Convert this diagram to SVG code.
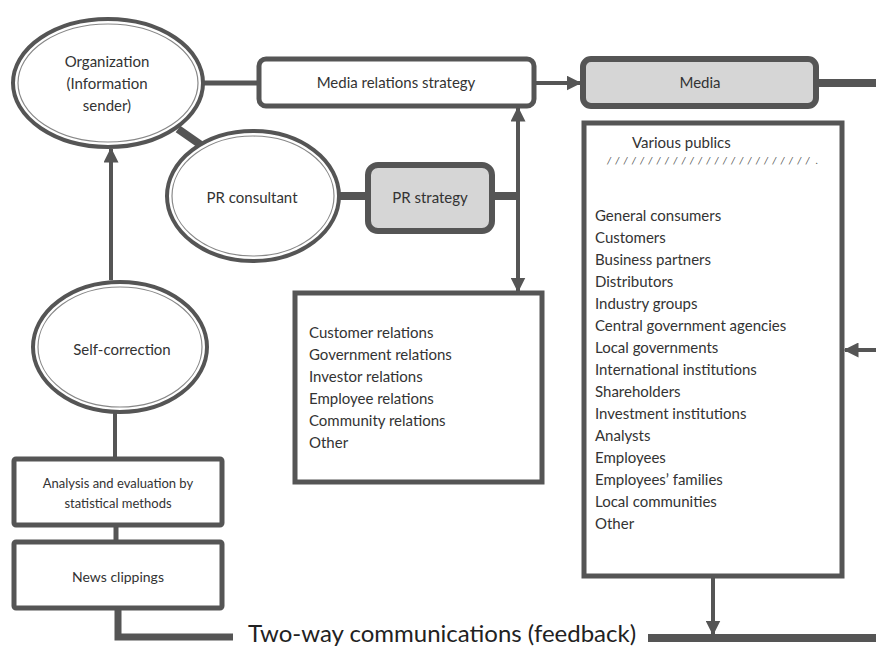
<svg xmlns="http://www.w3.org/2000/svg" width="876" height="646" viewBox="0 0 876 646">
<defs>
<style>
.t{font-family:Lato,"Liberation Sans",sans-serif;font-size:15px;fill:#333}
.c{text-anchor:middle;dominant-baseline:central}
.eo{fill:#fff;stroke:#555;stroke-width:4}
.ei{fill:none;stroke:#888;stroke-width:1.2}
.box{fill:#fff;stroke:#555;stroke-width:5}
.gbox{fill:#d6d6d6;stroke:#555;stroke-width:6}
.ln{stroke:#555;fill:none}
</style>
<marker id="ah" viewBox="0 0 10 10" refX="9" refY="5" markerWidth="15" markerHeight="15" orient="auto-start-reverse" markerUnits="userSpaceOnUse">
<path d="M0,0 L10,5 L0,10 z" fill="#555"/>
</marker>
</defs>
<rect width="876" height="646" fill="#fff"/>

<g id="connectors">
<line class="ln" x1="203" y1="83" x2="260" y2="83" stroke-width="5"/>
<line class="ln" x1="535" y1="83" x2="580" y2="83" stroke-width="4" marker-end="url(#ah)"/>
<line class="ln" x1="817" y1="83" x2="876" y2="83" stroke-width="8"/>
<line class="ln" x1="178" y1="129" x2="201" y2="145" stroke-width="8"/>
<line class="ln" x1="338" y1="196" x2="368" y2="196" stroke-width="8"/>
<line class="ln" x1="492" y1="196" x2="518" y2="196" stroke-width="8"/>
<line class="ln" x1="518" y1="108" x2="518" y2="291" stroke-width="4" marker-start="url(#ah)" marker-end="url(#ah)"/>
<line class="ln" x1="111" y1="280" x2="111" y2="149" stroke-width="4" marker-end="url(#ah)"/>
<line class="ln" x1="115" y1="412" x2="115" y2="458" stroke-width="4"/>
<line class="ln" x1="116" y1="526" x2="116" y2="541" stroke-width="5"/>
<polyline class="ln" points="118,610 118,637 233,637" stroke-width="7"/>
<line class="ln" x1="648" y1="638" x2="876" y2="638" stroke-width="8"/>
<line class="ln" x1="713" y1="577" x2="713" y2="634" stroke-width="4" marker-end="url(#ah)"/>
<line class="ln" x1="876" y1="350" x2="845" y2="350" stroke-width="4" marker-end="url(#ah)"/>
<text class="t c" x="442" y="632" style="font-size:24px;fill:#222">Two-way communications (feedback)</text>
</g>

<g id="organization">
<ellipse class="eo" cx="108" cy="83" rx="95" ry="64"/>
<ellipse class="ei" cx="108" cy="83" rx="90" ry="59"/>
<text class="t c" x="107" y="61">Organization</text>
<text class="t c" x="107" y="83">(Information</text>
<text class="t c" x="107" y="105">sender)</text>
</g>

<g id="media-relations-strategy">
<rect class="box" x="259" y="59" width="275" height="47" rx="7"/>
<text class="t c" x="396" y="82">Media relations strategy</text>
</g>

<g id="media">
<rect class="gbox" x="583" y="59" width="233" height="47" rx="8"/>
<text class="t c" x="700" y="82">Media</text>
</g>

<g id="pr-consultant">
<ellipse class="eo" cx="253" cy="196" rx="86" ry="65"/>
<ellipse class="ei" cx="253" cy="196" rx="81" ry="60"/>
<text class="t c" x="252" y="197">PR consultant</text>
</g>

<g id="pr-strategy">
<rect class="gbox" x="368" y="165" width="124" height="66" rx="10"/>
<text class="t c" x="430" y="197">PR strategy</text>
</g>

<g id="relations">
<rect class="box" x="295" y="293" width="247" height="189"/>
<text class="t" x="309" y="338">Customer relations</text>
<text class="t" x="309" y="360">Government relations</text>
<text class="t" x="309" y="382">Investor relations</text>
<text class="t" x="309" y="404">Employee relations</text>
<text class="t" x="309" y="426">Community relations</text>
<text class="t" x="309" y="448">Other</text>
</g>

<g id="various-publics">
<rect class="box" x="584" y="123" width="258" height="453"/>
<text class="t" x="632" y="148">Various publics</text>
<text class="t" x="607" y="164" textLength="211" lengthAdjust="spacing" style="font-size:10px;font-style:italic;fill:#555">/////////////////////////.</text>
<text class="t" x="595" y="221">General consumers</text>
<text class="t" x="595" y="243">Customers</text>
<text class="t" x="595" y="265">Business partners</text>
<text class="t" x="595" y="287">Distributors</text>
<text class="t" x="595" y="309">Industry groups</text>
<text class="t" x="595" y="331">Central government agencies</text>
<text class="t" x="595" y="353">Local governments</text>
<text class="t" x="595" y="375">International institutions</text>
<text class="t" x="595" y="397">Shareholders</text>
<text class="t" x="595" y="419">Investment institutions</text>
<text class="t" x="595" y="441">Analysts</text>
<text class="t" x="595" y="463">Employees</text>
<text class="t" x="595" y="485">Employees’ families</text>
<text class="t" x="595" y="507">Local communities</text>
<text class="t" x="595" y="529">Other</text>
</g>

<g id="self-correction">
<ellipse class="eo" cx="120" cy="347" rx="87" ry="65"/>
<ellipse class="ei" cx="120" cy="347" rx="82" ry="60"/>
<text class="t c" x="122" y="349">Self-correction</text>
</g>

<g id="analysis">
<rect class="box" x="14" y="459" width="208" height="66" rx="2"/>
<text class="t c" x="118" y="483" style="font-size:13px">Analysis and evaluation by</text>
<text class="t c" x="118" y="503" style="font-size:13px">statistical methods</text>
</g>

<g id="news-clippings">
<rect class="box" x="14" y="542" width="208" height="66" rx="2"/>
<text class="t c" x="118" y="576" style="font-size:14px">News clippings</text>
</g>
</svg>
